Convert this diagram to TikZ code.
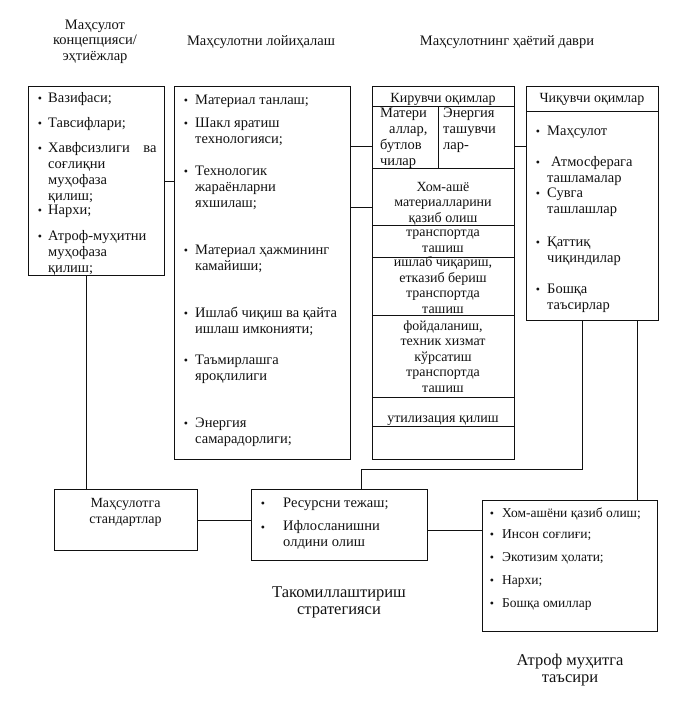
\documentclass[tikz,border=0pt]{standalone}
\usepackage{fontspec}
\setmainfont{Liberation Serif}
\usepackage{xcolor}
\usetikzlibrary{calc,positioning}
\definecolor{ink}{HTML}{111111}
\tikzset{
  box/.style={draw=ink, line width=0.8pt, inner sep=0pt, anchor=north west},
  wire/.style={draw=ink, line width=0.8pt},
  bul/.style={text=ink, inner sep=0pt, anchor=base, font=\fontsize{12}{15}\selectfont},
  item/.style={text=ink, inner sep=0pt, anchor=base west, align=left, font=\fontsize{14.5}{16}\selectfont},
  cell/.style={text=ink, inner sep=0pt, anchor=base, align=center, font=\fontsize{14}{15.5}\selectfont},
  small/.style={text=ink, inner sep=0pt, anchor=base west, align=left, font=\fontsize{13.5}{14}\selectfont},
  head/.style={text=ink, inner sep=0pt, anchor=base, align=center, font=\fontsize{14.5}{15.5}\selectfont},
  headl/.style={text=ink, inner sep=0pt, anchor=base, align=center, font=\fontsize{16.5}{16.5}\selectfont},
}
\begin{document}
\begin{tikzpicture}[x=1pt,y=-1pt]
\useasboundingbox (0,0) rectangle (677,704);

% column titles (y = baseline of last line)
\node[head] (tconc) at (95,60) {Маҳсулот\\концепцияси/\\эҳтиёжлар};
\node[head] (tdes) at (261,45) {Маҳсулотни лойиҳалаш};
\node[head] (tlife) at (507,45) {Маҳсулотнинг ҳаётий даври};

% boxes
\node[box, minimum width=136pt, minimum height=189pt] (conc) at (28,86) {};
\node[box, minimum width=176pt, minimum height=373pt] (des) at (174,86) {};
\node[box, minimum width=142pt, minimum height=373pt] (life) at (372,86) {};
\node[box, minimum width=132pt, minimum height=234pt] (out) at (526,86) {};
\node[box, minimum width=143pt, minimum height=61pt] (std) at (54,489) {};
\node[box, minimum width=176pt, minimum height=71pt] (res) at (251,489) {};
\node[box, minimum width=175pt, minimum height=131pt] (env) at (482,500) {};

% concept items: first baseline / last baseline / text
\foreach \a/\y/\t [count=\i] in {102/102/{Вазифаси;},127/127/{Тавсифлари;},
  152/200/{Хавфсизлиги\hspace{10pt} ва\\соғлиқни\\муҳофаза\\қилиш;},214/214/{Нархи;},
  240/272/{Атроф-муҳитни\\муҳофаза\\қилиш;}}{
  \node[bul] (cb\i) at (40,\a) {\textbullet};
  \node[item] (ci\i) at (48,\y) {\t};
}

% design items
\foreach \a/\y/\t [count=\i] in {104/104/{Материал танлаш;},127/143/{Шакл яратиш\\технологияси;},
  175/207/{Технологик\\жараёнларни\\яхшилаш;},254/270/{Материал ҳажмининг\\камайиши;},
  317/333/{Ишлаб чиқиш ва қайта\\ишлаш имконияти;},364/380/{Таъмирлашга\\яроқлилиги},
  427/443/{Энергия\\самарадорлиги;}}{
  \node[bul] (db\i) at (186,\a) {\textbullet};
  \node[item] (di\i) at (195,\y) {\t};
}

% life cycle: rows
\foreach \y in {106,168,225,257,315,397,426}{
  \draw[wire] (life.west |- 0,\y) -- (life.east |- 0,\y);
}
\draw[wire] (438,106) -- (438,168);
\node[cell] (lhead) at (443,102) {Кирувчи оқимлар};
\node[item] (lmat) at (380,165) {Матери\\\hspace*{9pt}аллар,\\бутлов\\чилар};
\node[item] (leng) at (443,149) {Энергия\\ташувчи\\лар-};
\node[cell] (lraw) at (443,222) {Хом-ашё\\материалларини\\қазиб олиш};
\node[cell] (ltr) at (443,252) {транспортда\\ташиш};
\node[cell] (lprod) at (443,313) {ишлаб чиқариш,\\етказиб бериш\\транспортда\\ташиш};
\node[cell] (luse) at (443,392) {фойдаланиш,\\техник хизмат\\кўрсатиш\\транспортда\\ташиш};
\node[cell] (lutil) at (443,422) {утилизация қилиш};

% outputs
\draw[wire] (out.west |- 0,111) -- (out.east |- 0,111);
\node[cell] (ohead) at (592,102) {Чиқувчи оқимлар};
\foreach \a/\y/\t [count=\i] in {135/135/{Маҳсулот},166/182/{\hspace*{4pt}Атмосферага\\ташламалар},
  197/213/{Сувга\\ташлашлар},246/262/{Қаттиқ\\чиқиндилар},293/309/{Бошқа\\таъсирлар}}{
  \node[bul] (ob\i) at (538,\a) {\textbullet};
  \node[item] (oi\i) at (547,\y) {\t};
}

% standards, strategy, environment
\node[cell] (stdt) at (125.5,523) {Маҳсулотга\\стандартлар};
\foreach \a/\y/\t [count=\i] in {507/507/{Ресурсни тежаш;},531/546/{Ифлосланишни\\олдини олиш}}{
  \node[bul] (rb\i) at (263,\a) {\textbullet};
  \node[item] (ri\i) at (283,\y) {\t};
}
\foreach \y/\t [count=\i] in {517/{Хом-ашёни қазиб олиш;},538/{Инсон соғлиғи;},
  561/{Экотизим ҳолати;},584/{Нархи;},607/{Бошқа омиллар}}{
  \node[bul] (eb\i) at (492,\y) {\textbullet};
  \node[small] (ei\i) at (502,\y) {\t};
}
\node[headl] (tstr) at (339,614) {Такомиллаштириш\\стратегияси};
\node[headl] (tenv) at (570,682) {Атроф муҳитга\\таъсири};

% connectors
\draw[wire] (conc.east) -- (des.west |- conc.east);
\draw[wire] (des.east |- 0,146) -- (life.west |- 0,146);
\draw[wire] (des.east |- 0,207) -- (life.west |- 0,207);
\draw[wire] (life.east |- 0,146) -- (out.west |- 0,146);
\draw[wire] ([xshift=-10pt]conc.south) -- ([xshift=-10pt]conc.south |- std.north);
\draw[wire] (std.east) -- (res.west |- std.east);
\draw[wire] ([yshift=-5pt]res.east) -- ([yshift=-5pt]env.west |- res.east);
\draw[wire] ([xshift=22pt]res.north) -- ++(0,-20) -| ([xshift=-10pt]out.south);
\draw[wire] ([xshift=67.5pt]env.north) -- ([xshift=67.5pt]env.north |- out.south);
\end{tikzpicture}
\end{document}
